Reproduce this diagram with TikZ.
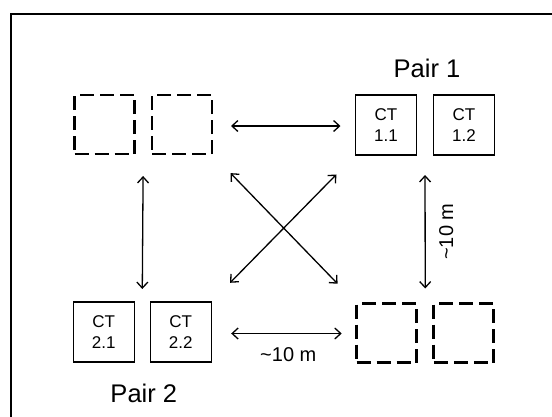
\documentclass[tikz,border=0pt]{standalone}
\usepackage{fontspec}
\setmainfont{Liberation Sans}
\usetikzlibrary{arrows.meta,calc}
\begin{document}
\begin{tikzpicture}[x=1pt,y=-1pt,
  ctbox/.style={draw,line width=1.4pt,minimum width=61pt,minimum height=60pt,inner sep=0pt,outer sep=0pt,align=center,font=\fontsize{17}{20.5}\selectfont},
  emptybox/.style={draw,line width=2.7pt,dash pattern=on 14pt off 6pt,minimum width=60pt,minimum height=59pt,inner sep=0pt,outer sep=0pt},
  dbl/.style={line width=1.3pt,{Straight Barb[length=6pt,width=11pt]}-{Straight Barb[length=6pt,width=11pt]}},
  pairlabel/.style={anchor=base,font=\fontsize{25.5}{30}\selectfont,inner sep=0pt},
  distlabel/.style={font=\fontsize{20}{24}\selectfont,inner sep=0pt}]
\useasboundingbox (0,0) rectangle (552,416);
\clip (0,0) rectangle (552,416);
% frame
\draw[line width=2pt] (11,430) -- (11,14) -- (570,14);
% boxes
\node[emptybox] (tl1) at (104.5,124.5) {};
\node[emptybox] (tl2) at (182,124.5) {};
\node[ctbox] (ct11) at (386,125) {CT\\1.1};
\node[ctbox] (ct12) at (464,125) {CT\\1.2};
\node[ctbox] (ct21) at (103.7,332) {CT\\2.1};
\node[ctbox] (ct22) at (180.7,332) {CT\\2.2};
\node[emptybox] (br1) at (386.7,333) {};
\node[emptybox] (br2) at (463.8,333) {};
% labels
\node[pairlabel] (p1) at (427,77.3) {Pair 1};
\node[pairlabel] (p2) at (143.8,402) {Pair 2};
% coordinates between pairs
\coordinate (tlm) at ($(tl1.south east)!0.5!(tl2.south west)$);
\coordinate (blm) at ($(ct21.north east)!0.5!(ct22.north west)$);
\coordinate (trm) at ($(ct11.south east)!0.5!(ct12.south west)$);
\coordinate (brm) at ($(br1.north east)!0.5!(br2.north west)$);
% arrows
\draw[dbl,shorten <=19pt,shorten >=15pt] ($(tl2.east)+(0,1.5)$) -- ($(ct11.west)+(0,1)$);
\draw[dbl,shorten <=20pt,shorten >=15pt] ($(ct22.east)+(0,1.5)$) -- ($(br1.west)+(0,0.5)$);
\draw[dbl,shorten <=22pt,shorten >=13pt] (tlm) -- (blm);
\draw[dbl,shorten <=20pt,shorten >=15pt] (trm) -- (brm);
\draw[dbl,shorten <=26.6pt,shorten >=27.5pt] (tl2.south east) -- (br1.north west);
\draw[dbl,shorten <=27.3pt,shorten >=26.9pt] (ct11.south west) -- (ct22.north east);
% distance labels
\node[distlabel,anchor=base] (d1) at (288.3,361.7) {\textasciitilde10 m};
\node[distlabel,anchor=base,rotate=90] (d2) at (453,231.7) {\textasciitilde10 m};
\end{tikzpicture}
\end{document}
